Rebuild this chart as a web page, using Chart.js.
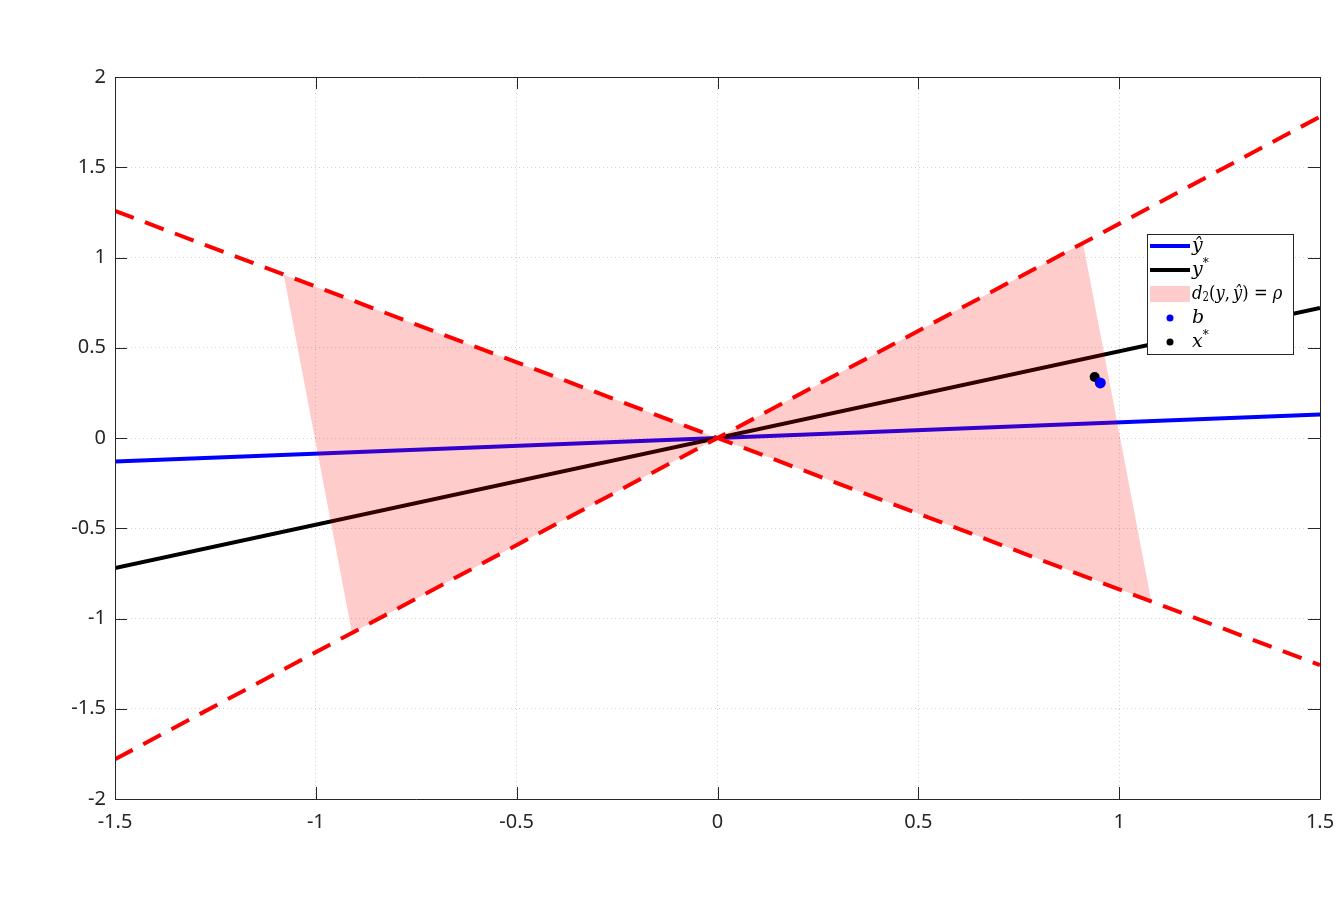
<!DOCTYPE html>
<html>
<head>
<meta charset="utf-8">
<script src="https://cdn.jsdelivr.net/npm/chart.js@4/dist/chart.umd.min.js"></script>
<style>
  body { margin: 0; background: #fff; }
  canvas { display: block; }
</style>
</head>
<body>
<canvas id="c" width="1340" height="917"></canvas>
<script>
// line ends along x
const xEnds = [-1.5, 1.5];
const yHat = [-0.13, 0.13];          // blue line
const yStar = [-0.72, 0.72];         // black line
const boundUp = [-1.78, 1.78];       // red dashed, rising
const boundDown = [1.258, -1.258];   // red dashed, falling

// shaded region d2(y, yhat) = rho, two triangles
const leftTriX = [-1.08, 0, -0.91, -1.08];
const leftTriY = [0.905, 0, -1.08, 0.905];
const rightTriX = [0.91, 0, 1.08, 0.91];
const rightTriY = [1.08, 0, -0.905, 1.08];

// points
const bPoint = [0.953, 0.305];
const xStarPoint = [0.939, 0.338];

const xTicks = [-1.5, -1, -0.5, 0, 0.5, 1, 1.5];
const yTicks = [-2, -1.5, -1, -0.5, 0, 0.5, 1, 1.5, 2];

function pts(xs, ys) {
  return xs.map(function(x, i) { return { x: x, y: ys[i] }; });
}

const shade = 'rgba(255,0,0,0.2)';

// box, inside ticks, legend
const framePlugin = {
  id: 'frame',
  afterDraw: function(chart) {
    const ctx = chart.ctx;
    const a = chart.chartArea;
    const sx = chart.scales.x, sy = chart.scales.y;
    ctx.save();
    ctx.strokeStyle = '#262626';
    ctx.lineWidth = 1;
    ctx.beginPath();
    ctx.rect(Math.round(a.left) + 0.5, Math.round(a.top) + 0.5, Math.round(a.right - a.left), Math.round(a.bottom - a.top));
    ctx.stroke();
    const tl = 12;
    ctx.beginPath();
    xTicks.forEach(function(v) {
      const px = Math.round(sx.getPixelForValue(v)) + 0.5;
      ctx.moveTo(px, a.bottom); ctx.lineTo(px, a.bottom - tl);
      ctx.moveTo(px, a.top); ctx.lineTo(px, a.top + tl);
    });
    yTicks.forEach(function(v) {
      const py = Math.round(sy.getPixelForValue(v)) + 0.5;
      ctx.moveTo(a.left, py); ctx.lineTo(a.left + tl, py);
      ctx.moveTo(a.right, py); ctx.lineTo(a.right - tl, py);
    });
    ctx.stroke();

    // legend
    const lx = 1147, ly = 234, lw = 146, lh = 120;
    ctx.fillStyle = '#fff';
    ctx.fillRect(lx, ly, lw, lh);
    ctx.strokeStyle = '#262626';
    ctx.strokeRect(lx + 0.5, ly + 0.5, lw, lh);

    const rowY = [246, 270, 294, 318, 342];
    ctx.lineWidth = 4;
    ctx.strokeStyle = '#0000ff';
    ctx.beginPath(); ctx.moveTo(1150, rowY[0]); ctx.lineTo(1190, rowY[0]); ctx.stroke();
    ctx.strokeStyle = '#000';
    ctx.beginPath(); ctx.moveTo(1150, rowY[1]); ctx.lineTo(1190, rowY[1]); ctx.stroke();
    ctx.fillStyle = shade;
    ctx.fillRect(1150, rowY[2] - 8, 40, 16);
    ctx.fillStyle = '#0000ff';
    ctx.beginPath(); ctx.arc(1170, rowY[3], 3.5, 0, Math.PI * 2); ctx.fill();
    ctx.fillStyle = '#000';
    ctx.beginPath(); ctx.arc(1170, rowY[4], 3.5, 0, Math.PI * 2); ctx.fill();

    const it = 'italic 19px "DejaVu Serif", serif';
    const rm = '19px "DejaVu Serif", serif';
    const sm = '12px "DejaVu Serif", serif';
    ctx.textBaseline = 'middle';
    ctx.textAlign = 'left';
    function run(x, y, parts) {
      parts.forEach(function(p) {
        ctx.font = p[1];
        ctx.fillText(p[0], x, y + (p[2] || 0));
        x += ctx.measureText(p[0]).width;
      });
    }
    ctx.fillStyle = '#000';
    run(1192, rowY[0], [['\u0177', it]]);
    run(1192, rowY[1], [['y', it], ['*', sm, -6]]);
    ctx.save();
    ctx.translate(1192, 0);
    ctx.scale(0.86, 1);
    run(0, rowY[2], [['d', it], ['2', sm, 4], ['(', rm], ['y', it], [',', rm], [' ', sm], ['\u0177', it], [')', rm], [' = ', rm], ['\u03c1', it]]);
    ctx.restore();
    run(1192, rowY[3], [['b', it]]);
    run(1192, rowY[4], [['x', it], ['*', sm, -6]]);
    ctx.restore();
  }
};

const ctx = document.getElementById('c').getContext('2d');
new Chart(ctx, {
  type: 'scatter',
  data: {
    datasets: [
      { data: pts(xEnds, yHat), showLine: true, borderColor: '#0000ff', borderWidth: 4, pointRadius: 0, order: 4 },
      { data: pts(xEnds, yStar), showLine: true, borderColor: '#000000', borderWidth: 4, pointRadius: 0, order: 3 },
      { data: pts(leftTriX, leftTriY), showLine: true, borderWidth: 0, borderColor: 'rgba(0,0,0,0)', backgroundColor: shade, fill: 'shape', pointRadius: 0, order: 2 },
      { data: pts(rightTriX, rightTriY), showLine: true, borderWidth: 0, borderColor: 'rgba(0,0,0,0)', backgroundColor: shade, fill: 'shape', pointRadius: 0, order: 2 },
      { data: pts(xEnds, boundUp), showLine: true, borderColor: '#ff0000', borderWidth: 4, borderDash: [20, 12], pointRadius: 0, order: 1 },
      { data: pts(xEnds, boundDown), showLine: true, borderColor: '#ff0000', borderWidth: 4, borderDash: [20, 12], pointRadius: 0, order: 1 },
      { data: [{ x: xStarPoint[0], y: xStarPoint[1] }], backgroundColor: '#000', borderWidth: 0, pointRadius: 5, order: 0 },
      { data: [{ x: bPoint[0], y: bPoint[1] }], backgroundColor: '#0000ff', borderWidth: 0, pointRadius: 5.5, order: -1 }
    ]
  },
  options: {
    responsive: false,
    animation: false,
    layout: { autoPadding: false, padding: { top: 77, right: 20, left: 0, bottom: 0 } },
    plugins: { legend: { display: false }, tooltip: { enabled: false } },
    scales: {
      x: {
        type: 'linear', min: -1.5, max: 1.5,
        afterBuildTicks: function(s) { s.ticks = xTicks.map(function(v) { return { value: v }; }); },
        afterFit: function(s) { s.height = 118; s.paddingLeft = 0; s.paddingRight = 0; },
        grid: { color: 'rgba(0,0,0,0.18)', lineWidth: 1, drawTicks: false },
        border: { display: false, dash: [1, 3] },
        ticks: { padding: 11, color: '#262626', font: { family: 'Noto Sans', size: 20 }, maxRotation: 0, callback: function(v) { return String(v); } }
      },
      y: {
        type: 'linear', min: -2, max: 2,
        afterBuildTicks: function(s) { s.ticks = yTicks.map(function(v) { return { value: v }; }); },
        afterFit: function(s) { s.width = 115; s.paddingTop = 0; s.paddingBottom = 0; },
        grid: { color: 'rgba(0,0,0,0.18)', lineWidth: 1, drawTicks: false },
        border: { display: false, dash: [1, 3] },
        ticks: { padding: 9, color: '#262626', font: { family: 'Noto Sans', size: 20 }, callback: function(v) { return String(v); } }
      }
    }
  },
  plugins: [framePlugin]
});
</script>
</body>
</html>
